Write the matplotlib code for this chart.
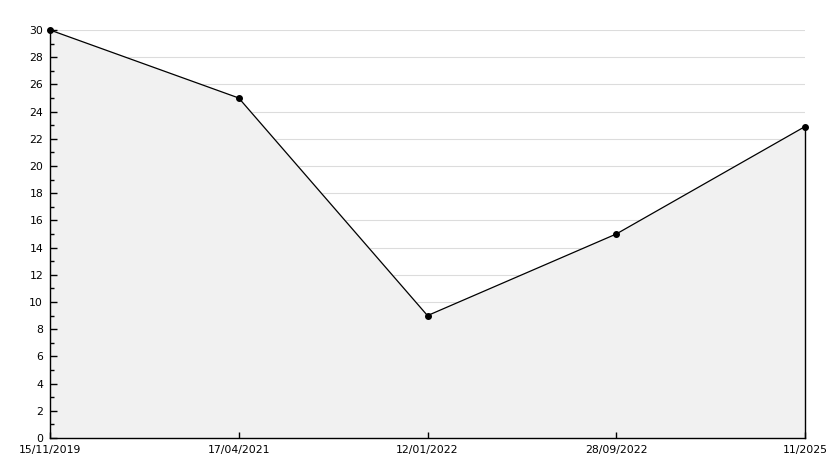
import numpy as np
import matplotlib.pyplot as plt
from matplotlib.ticker import MultipleLocator

# Datos del gráfico
dates = ['15/11/2019', '17/04/2021', '12/01/2022', '28/09/2022', '11/2025']
values = [30, 25, 9, 15, 22.9]

x = np.arange(len(dates))

fig = plt.figure(figsize=(8.34, 4.68), dpi=100)
ax = fig.add_axes([50 / 834, 1 - 438 / 468, 755 / 834, 408 / 468])

ax.set_xlim(0, len(dates) - 1)
ax.set_ylim(0, 30)
ax.yaxis.set_major_locator(MultipleLocator(2))
ax.yaxis.set_minor_locator(MultipleLocator(1))

# Rejilla horizontal (debajo del relleno)
for yv in ax.get_yticks():
    if 0 < yv <= 30:
        ax.axhline(yv, color='#dcdcdc', lw=0.8, zorder=0.5)

# Área rellena y línea
ax.fill_between(x, values, 0, color='#f1f1f1', zorder=1)
ax.plot([x[-1], x[-1]], [0, values[-1]], color='black', lw=1, zorder=3, clip_on=False)
ax.plot(x, values, color='black', lw=0.9, marker='o', ms=4, zorder=4, clip_on=False)

ax.set_xticks(x)
ax.set_xticklabels(dates)

for s in ['top', 'right']:
    ax.spines[s].set_visible(False)
for s in ['left', 'bottom']:
    ax.spines[s].set_linewidth(1)
    ax.spines[s].set_zorder(5)

ax.tick_params(axis='y', which='major', direction='in', length=5, width=1, pad=5, labelsize=7.8)
ax.tick_params(axis='y', which='minor', direction='in', length=3, width=1)
ax.tick_params(axis='x', direction='in', length=4, width=1, pad=5, labelsize=7.8)

fig.savefig('out.png', dpi=100)
